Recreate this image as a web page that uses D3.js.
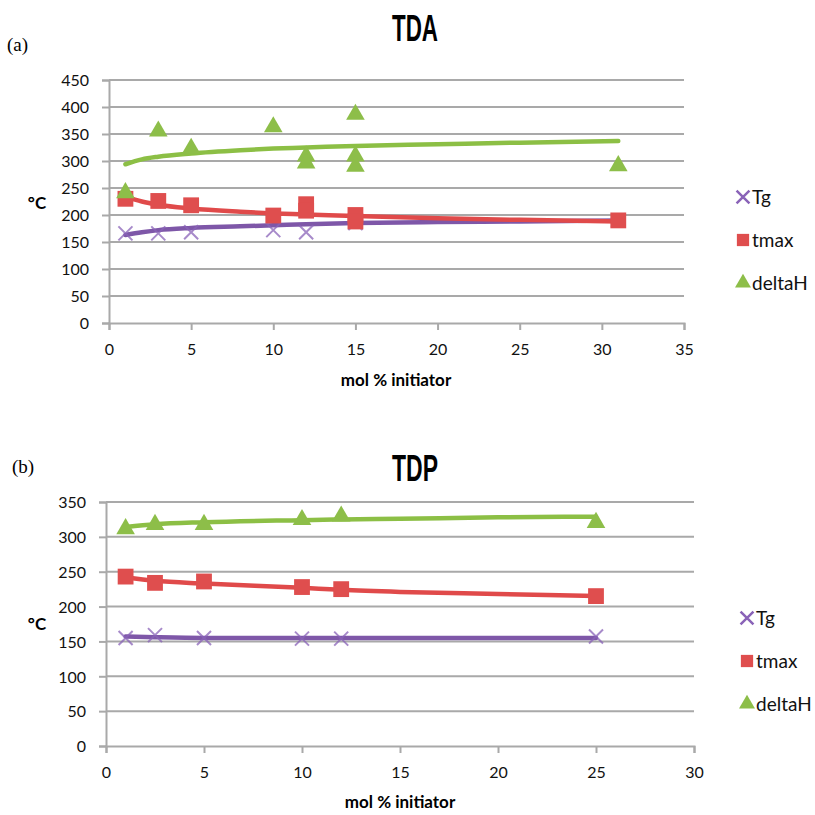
<!DOCTYPE html>
<html>
<head>
<meta charset="utf-8">
<script src="https://cdn.jsdelivr.net/npm/d3@7"></script>
<style>
  body { margin: 0; background: #fff; }
  svg { display: block; }
</style>
</head>
<body>
<div id="chart"></div>
<script>
// ---- TDA panel data ----
const tdaTgX = [1, 3, 5, 10, 12, 15, 31];
const tdaTg = [166, 166, 168, 172, 168, 185, 190];
const tdaTmaxX = [1, 3, 5, 10, 12, 12, 15, 15, 31];
const tdaTmax = [230, 226, 218, 199, 220, 208, 200, 188, 190];
const tdaDeltaHX = [1, 3, 5, 10, 12, 12, 15, 15, 15, 31];
const tdaDeltaH = [243, 357, 325, 365, 311, 298, 388, 311, 292, 293];

// trend lines
const tdaTrendX = [1, 2, 3, 5, 8, 10, 12, 15, 20, 25, 31];
const tdaTgTrend = [163, 168, 172, 176, 179, 181, 183, 185, 187, 188, 190];
const tdaTmaxTrend = [234, 225, 219, 212, 206, 203, 201, 198, 194, 191, 188];
const tdaDeltaHTrend = [294, 303, 308, 314, 320, 323, 325, 328, 331, 334, 337];

// ---- TDP panel data ----
const tdpX = [1, 2.5, 5, 10, 12, 25];
const tdpTg = [155, 159, 155, 154, 154, 157];
const tdpTmax = [243, 234, 236, 228, 225, 215];
const tdpDeltaH = [313, 319, 319, 326, 331, 322];

const tdpTrendX = [1, 2.5, 5, 10, 12, 15, 20, 25];
const tdpTgTrend = [157, 156, 155, 155, 155, 155, 155, 155];
const tdpTmaxTrend = [242, 237, 233, 227, 224, 221, 218, 215];
const tdpDeltaHTrend = [314, 318, 321, 324, 325, 326, 328, 329];

const seriesNames = ["Tg", "tmax", "deltaH"];
const markerColors = ["#8A63B8", "#DF4E4E", "#8DBE49"];
const lineColors = ["#7E57A8", "#E04A4A", "#8CBF45"];

const svg = d3.select("#chart").append("svg")
    .attr("width", 815)
    .attr("height", 815);

const tickFont = "Lato, 'Open Sans', sans-serif";

// panel tags
svg.append("text").attr("x", 7).attr("y", 51)
    .style("font-family", "'Liberation Serif', 'DejaVu Serif', serif")
    .style("font-size", "19px")
    .text("(a)");
svg.append("text").attr("x", 12).attr("y", 473)
    .style("font-family", "'Liberation Serif', 'DejaVu Serif', serif")
    .style("font-size", "19px")
    .text("(b)");

function drawPanel(cfg) {
    const xScale = d3.scaleLinear().domain(cfg.xDomain).range(cfg.xRange);
    const yScale = d3.scaleLinear().domain(cfg.yDomain).range(cfg.yRange);
    const g = svg.append("g");

    // gridlines
    g.append("g")
        .selectAll("line")
        .data(yScale.ticks(cfg.yTicks).filter(d => d > 0))
        .join("line")
        .attr("x1", cfg.xRange[0])
        .attr("x2", cfg.xRange[1])
        .attr("y1", d => yScale(d))
        .attr("y2", d => yScale(d))
        .attr("stroke", "#A9A9A9")
        .attr("stroke-width", 2);

    // axes
    const yAxis = g.append("g")
        .attr("transform", `translate(${cfg.xRange[0]},0)`)
        .call(d3.axisLeft(yScale).ticks(cfg.yTicks).tickSize(7).tickPadding(13));
    const xAxis = g.append("g")
        .attr("transform", `translate(0,${cfg.yRange[0]})`)
        .call(d3.axisBottom(xScale).ticks(cfg.xTicks).tickSize(7).tickPadding(14));

    [xAxis, yAxis].forEach(ax => {
        ax.select(".domain").attr("stroke", "#A9A9A9").attr("stroke-width", 2);
        ax.selectAll(".tick line").attr("stroke", "#A9A9A9").attr("stroke-width", 2);
        ax.selectAll("text")
            .attr("fill", "#111")
            .style("font-family", tickFont)
            .style("font-size", "16px");
    });
    yAxis.selectAll("text").attr("dy", "0.36em");

    // trend lines
    const trendLine = d3.line()
        .x(d => xScale(d[0]))
        .y(d => yScale(d[1]))
        .curve(d3.curveMonotoneX);

    cfg.trends.forEach((ys, i) => {
        g.append("path")
            .attr("fill", "none")
            .attr("stroke", lineColors[i])
            .attr("stroke-width", 4.5)
            .attr("stroke-linecap", "round")
            .attr("d", trendLine(cfg.trendX.map((x, j) => [x, ys[j]])));
    });

    // markers: Tg (x), tmax (square), deltaH (triangle)
    const cross = d3.symbol().type(d3.symbolX).size(130);
    const square = d3.symbol().type(d3.symbolSquare).size(250);
    const tri = d3.symbol().type(d3.symbolTriangle).size(150);

    g.append("g").selectAll("path")
        .data(cfg.tgX.map((x, j) => [x, cfg.tg[j]]))
        .join("path")
        .attr("transform", d => `translate(${xScale(d[0])},${yScale(d[1])})`)
        .attr("d", cross())
        .attr("fill", "none")
        .attr("stroke", markerColors[0])
        .attr("stroke-opacity", 0.75)
        .attr("stroke-width", 2);

    g.append("g").selectAll("path")
        .data(cfg.tmaxX.map((x, j) => [x, cfg.tmax[j]]))
        .join("path")
        .attr("transform", d => `translate(${xScale(d[0])},${yScale(d[1])})`)
        .attr("d", square())
        .attr("fill", markerColors[1]);

    g.append("g").selectAll("path")
        .data(cfg.dhX.map((x, j) => [x, cfg.dh[j]]))
        .join("path")
        .attr("transform", d => `translate(${xScale(d[0])},${yScale(d[1]) + 1})`)
        .attr("d", tri())
        .attr("fill", markerColors[2]);

    // title and labels
    svg.append("text")
        .attr("x", 37)
        .attr("y", cfg.unitY)
        .attr("text-anchor", "middle")
        .style("font-family", tickFont)
        .style("font-weight", "bold")
        .style("font-size", "17px")
        .text("°C");

    svg.append("text")
        .attr("x", cfg.xLabelX)
        .attr("y", cfg.xLabelY)
        .attr("text-anchor", "middle")
        .style("font-family", tickFont)
        .style("font-weight", "bold")
        .style("font-size", "17px")
        .text("mol % initiator");

    svg.append("text")
        .attr("x", 415)
        .attr("y", cfg.titleY)
        .attr("text-anchor", "middle")
        .attr("textLength", 46)
        .attr("lengthAdjust", "spacingAndGlyphs")
        .style("font-family", "'Liberation Sans', Arial, sans-serif")
        .style("font-weight", "bold")
        .style("font-size", "36px")
        .text(cfg.title);

    // legend
    const legend = svg.append("g");
    seriesNames.forEach((name, i) => {
        const row = legend.append("g")
            .attr("transform", `translate(${cfg.legendX},${cfg.legendY + i * 43})`);
        const s = row.append("path")
            .attr("d", i === 0 ? d3.symbol().type(d3.symbolX).size(110)()
                : i === 1 ? d3.symbol().type(d3.symbolSquare).size(150)()
                : d3.symbol().type(d3.symbolTriangle).size(110)());
        if (i === 0) {
            s.attr("fill", "none").attr("stroke", markerColors[0]).attr("stroke-width", 2.5);
        } else {
            s.attr("fill", markerColors[i]);
        }
        row.append("text")
            .attr("x", 9)
            .attr("y", 0)
            .attr("dy", "0.36em")
            .style("font-family", tickFont)
            .style("font-size", "19px")
            .attr("fill", "#111")
            .text(name);
    });
}

drawPanel({
    xDomain: [0, 35], xRange: [109, 684], xTicks: 7,
    yDomain: [0, 450], yRange: [323, 80], yTicks: 9,
    tgX: tdaTgX, tg: tdaTg,
    tmaxX: tdaTmaxX, tmax: tdaTmax,
    dhX: tdaDeltaHX, dh: tdaDeltaH,
    trendX: tdaTrendX, trends: [tdaTgTrend, tdaTmaxTrend, tdaDeltaHTrend],
    title: "TDA", titleY: 41, unitY: 209,
    xLabelX: 396, xLabelY: 386,
    legendX: 743, legendY: 197
});

drawPanel({
    xDomain: [0, 30], xRange: [106, 694], xTicks: 6,
    yDomain: [0, 350], yRange: [746, 502], yTicks: 7,
    tgX: tdpX, tg: tdpTg,
    tmaxX: tdpX, tmax: tdpTmax,
    dhX: tdpX, dh: tdpDeltaH,
    trendX: tdpTrendX, trends: [tdpTgTrend, tdpTmaxTrend, tdpDeltaHTrend],
    title: "TDP", titleY: 481, unitY: 630,
    xLabelX: 400, xLabelY: 808,
    legendX: 747, legendY: 618
});
</script>
</body>
</html>
